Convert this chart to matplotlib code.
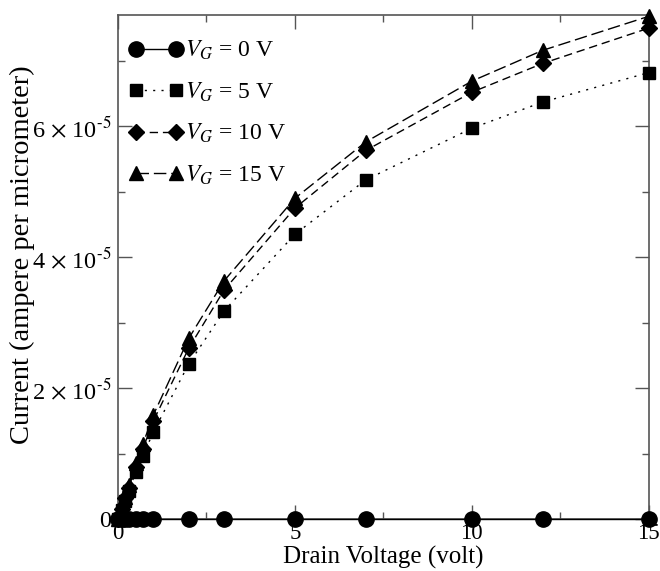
import matplotlib
matplotlib.use('Agg')
import matplotlib.pyplot as plt
from matplotlib.ticker import FixedLocator, FuncFormatter, MultipleLocator

# drain voltage sweep (volt)
vd = [0, 0.1, 0.2, 0.3, 0.5, 0.7, 1, 2, 3, 5, 7, 10, 12, 15]

# current in units of 1e-5 A/um
i_vg0 = [0, 0, 0, 0, 0, 0, 0, 0, 0, 0, 0, 0, 0, 0]
i_vg5 = [0, 0.14, 0.28, 0.42, 0.72, 0.96, 1.33, 2.37, 3.18, 4.35, 5.18, 5.97, 6.37, 6.82]
i_vg10 = [0, 0.16, 0.32, 0.48, 0.79, 1.07, 1.50, 2.61, 3.50, 4.75, 5.63, 6.52, 6.96, 7.50]
i_vg15 = [0, 0.17, 0.34, 0.52, 0.85, 1.14, 1.59, 2.76, 3.64, 4.90, 5.76, 6.69, 7.16, 7.68]

labels = ['$V_G$ = 0 V', '$V_G$ = 5 V', '$V_G$ = 10 V', '$V_G$ = 15 V']
yticks = [0, 2e-5, 4e-5, 6e-5]

plt.rcParams['font.family'] = ['Liberation Serif', 'DejaVu Serif']
plt.rcParams['mathtext.fontset'] = 'stix'

fig = plt.figure(figsize=(6.6, 5.71), dpi=100)
ax = fig.add_axes([0.1788, 0.0911, 0.8042, 0.8826])

scale = 1e-5
ax.plot(vd, [v * scale for v in i_vg0], color='black', lw=1.0, ls='-',
        marker='o', ms=11, clip_on=False, label=labels[0], zorder=3)
ax.plot(vd, [v * scale for v in i_vg5], color='black', lw=1.0, dashes=(1.5, 4.5),
        marker='s', ms=8.5, clip_on=False, label=labels[1], zorder=3)
ax.plot(vd, [v * scale for v in i_vg10], color='black', lw=1.0, dashes=(6, 3.5),
        marker='D', ms=8, clip_on=False, label=labels[2], zorder=3)
ax.plot(vd, [v * scale for v in i_vg15], color='black', lw=1.0, dashes=(9, 3.5),
        marker='^', ms=10, clip_on=False, label=labels[3], zorder=3)

ax.set_xlim(0, 15)
ax.set_ylim(0, 7.7e-5)

ax.xaxis.set_major_locator(MultipleLocator(5))
ax.xaxis.set_minor_locator(MultipleLocator(2.5))
ax.yaxis.set_major_locator(FixedLocator(yticks))
ax.yaxis.set_minor_locator(MultipleLocator(1e-5))


def fmt(v, pos):
    if abs(v) < 1e-12:
        return '0'
    return '%d $\\times$ 10$^{\u2010 5}$' % round(v / 1e-5)


ax.yaxis.set_major_formatter(FuncFormatter(fmt))

ax.tick_params(which='both', direction='in', top=True, right=True,
               color='#555555', width=1.0)
ax.tick_params(which='major', length=10)
ax.tick_params(which='minor', length=5)
ax.tick_params(axis='y', labelsize=17.5, pad=5)
ax.tick_params(axis='x', labelsize=16.5, pad=3)
for s in ax.spines.values():
    s.set_color('#555555')
    s.set_linewidth(1.2)

ax.set_xlabel('Drain Voltage (volt)', fontsize=18, labelpad=1)
ax.set_ylabel('Current (ampere per micrometer)', fontsize=20.5)
ax.yaxis.set_label_coords(-0.157, 0.524)

ax.legend(loc='upper left', frameon=False, fontsize=17, numpoints=2,
          handlelength=2.3, handletextpad=0.05, labelspacing=0.77,
          borderaxespad=0.3, bbox_to_anchor=(-0.01, 0.985))

fig.savefig('out.png', dpi=100)
